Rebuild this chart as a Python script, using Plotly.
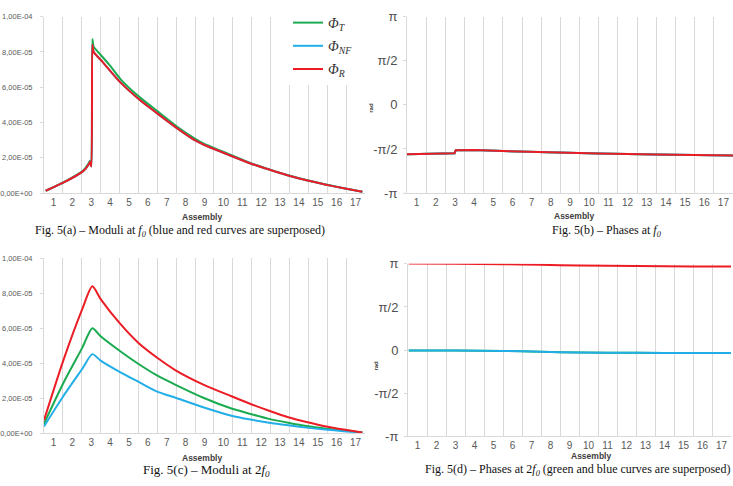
import math
import plotly.graph_objects as go

W, H = 733, 486
PI = math.pi

# ---------------- data ----------------
assemblies = list(range(1, 18))
assembly_labels = [str(a) for a in assemblies]

# Fig 5(a) - moduli at f0
xa = [0.59, 1.52, 2.56, 2.88, 2.93, 3.01, 3.06, 3.13, 3.59, 4.03, 4.56, 5.56, 6.53, 7.52,
      8.53, 8.97, 10.46, 11.44, 12.46, 13.43, 14.4, 15.37, 16.37, 17.36]
mod_f0_T = [1.3e-6, 6.1e-6, 1.27e-5, 1.72e-5, 1.83e-5, 1.55e-5, 8.74e-5, 8.30e-5, 7.73e-5, 7.18e-5,
            6.45e-5, 5.44e-5, 4.62e-5, 3.79e-5, 3.06e-5, 2.80e-5, 2.13e-5, 1.70e-5, 1.33e-5,
            1.01e-5, 7.4e-6, 5.0e-6, 2.8e-6, 7e-7]
mod_f0_R = [1.3e-6, 5.9e-6, 1.23e-5, 1.65e-5, 1.78e-5, 1.50e-5, 8.42e-5, 8.00e-5, 7.45e-5, 6.90e-5,
            6.26e-5, 5.29e-5, 4.49e-5, 3.70e-5, 2.97e-5, 2.74e-5, 2.09e-5, 1.68e-5, 1.32e-5,
            1.00e-5, 7.3e-6, 4.9e-6, 2.7e-6, 7e-7]
mod_f0_NF = mod_f0_R  # superposed with red

# Fig 5(b) - phases at f0 (all curves superposed)
xb = [0.5, 2.0, 2.98, 3.04, 4.0, 5.5, 7.98, 10.48, 13.49, 15.48, 17.5]
phase_f0 = [-1.758, -1.745, -1.723, -1.620, -1.608, -1.643, -1.700, -1.735, -1.769, -1.792, -1.804]

# Fig 5(c) - moduli at 2f0
xc = [0.5, 1.52, 2.53, 3.06, 3.5, 4.52, 5.49, 6.46, 7.47, 8.97, 10.43, 11.44, 12.42, 13.43,
      14.4, 15.37, 16.37, 17.36]
mod_2f0_R = [7.5e-6, 4.15e-5, 7.1e-5, 8.39e-5, 7.66e-5, 6.27e-5, 5.17e-5, 4.34e-5, 3.6e-5, 2.77e-5,
             2.12e-5, 1.68e-5, 1.29e-5, 9.2e-6, 6.5e-6, 4.1e-6, 2.2e-6, 5e-7]
mod_2f0_T = [5.5e-6, 2.86e-5, 4.89e-5, 6.0e-5, 5.54e-5, 4.7e-5, 3.97e-5, 3.32e-5, 2.77e-5, 2.02e-5,
             1.42e-5, 1.11e-5, 8.3e-6, 6.1e-6, 4.2e-6, 2.8e-6, 1.7e-6, 5e-7]
mod_2f0_NF = [4e-6, 2.12e-5, 3.69e-5, 4.52e-5, 4.15e-5, 3.5e-5, 2.95e-5, 2.4e-5, 2.03e-5, 1.48e-5,
              1.01e-5, 7.9e-6, 6.1e-6, 4.6e-6, 3.3e-6, 2.2e-6, 1.3e-6, 5e-7]

# Fig 5(d) - phases at 2f0 (green and blue superposed)
xd = [0.54, 3.0, 5.5, 7.5, 9.5, 12.5, 15.5, 17.5]
phase_2f0_R = [3.15, 3.14, 3.13, 3.106, 3.083, 3.059, 3.047, 3.047]
phase_2f0_T = [-0.018, -0.018, -0.03, -0.065, -0.088, -0.10, -0.11, -0.11]
phase_2f0_NF = phase_2f0_T

mod_ticks = [0, 2e-5, 4e-5, 6e-5, 8e-5, 1e-4]
mod_ticktext = ["0,00E+00", "2,00E-05", "4,00E-05", "6,00E-05", "8,00E-05", "1,00E-04"]
phase_ticks = [-PI, -PI / 2, 0, PI / 2, PI]
phase_ticktext = ["-π", "-π/2", "0", "π/2", "π"]

names = ["<i>Φ</i><sub><i>T</i></sub>", "<i>Φ</i><sub><i>NF</i></sub>", "<i>Φ</i><sub><i>R</i></sub>"]
colors = ["#1aab50", "#22aee6", "#ec1c24"]

# ---------------- figure ----------------
fig = go.Figure()

def add3(x, ys, xa_ref, ya_ref, legend=False, smooth=0.0):
    for i, y in enumerate(ys):
        line = dict(color=colors[i], width=2)
        if smooth > 0:
            line.update(shape="spline", smoothing=smooth)
        fig.add_trace(go.Scatter(
            x=x, y=y, mode="lines", name=names[i], legendgroup=f"g{i}",
            showlegend=legend, line=line,
            xaxis=xa_ref, yaxis=ya_ref, hoverinfo="skip"))

add3(xa, [mod_f0_T, mod_f0_NF, mod_f0_R], "x", "y", legend=True, smooth=0.5)
add3(xb, [phase_f0, phase_f0, phase_f0], "x2", "y2")
add3(xc, [mod_2f0_T, mod_2f0_NF, mod_2f0_R], "x3", "y3", smooth=0.7)
add3(xd, [phase_2f0_T, phase_2f0_NF, phase_2f0_R], "x4", "y4", smooth=0.5)

def px_x(a, b):
    return [a / W, b / W]

def px_y(top, bottom):
    return [1 - bottom / H, 1 - top / H]

grid_vals = [k + 0.5 for k in range(1, 17)]
axis_col = "#d9d9d9"
tick_font = dict(family="Liberation Sans, Arial, sans-serif", size=10, color="#595959")

def xaxis(domain, anchor):
    return dict(domain=domain, anchor=anchor, range=[0.5, 17.5], tickmode="array",
                tickvals=assemblies, ticktext=assembly_labels, showgrid=False,
                zeroline=False, showline=True, linecolor=axis_col, linewidth=1,
                ticks="", tickfont=tick_font, ticklabeloverflow="allow",
                minor=dict(tickmode="array", tickvals=grid_vals, showgrid=True,
                           gridcolor=axis_col, gridwidth=1, ticks=""))

def mod_yaxis(domain, anchor):
    return dict(domain=domain, anchor=anchor, range=[0, 1e-4], tickmode="array",
                tickvals=mod_ticks, ticktext=mod_ticktext, showgrid=False, zeroline=False,
                showline=True, linecolor=axis_col, ticks="outside", ticklen=3,
                tickcolor=axis_col, ticklabelstandoff=6,
                tickfont=dict(family="Liberation Sans, Arial, sans-serif", size=7.5, color="#595959"))

def ph_yaxis(domain, anchor):
    return dict(domain=domain, anchor=anchor, range=[-PI, PI], tickmode="array",
                tickvals=phase_ticks, ticktext=phase_ticktext, showgrid=False, zeroline=False,
                showline=True, linecolor=axis_col, ticks="outside", ticklen=3,
                tickcolor=axis_col, ticklabelstandoff=3,
                tickfont=dict(family="Liberation Sans, Arial, sans-serif", size=13, color="#505050"))

fig.update_layout(
    width=W, height=H, autosize=False,
    margin=dict(l=0, r=0, t=0, b=0),
    paper_bgcolor="white", plot_bgcolor="white",
    xaxis=xaxis(px_x(44, 365), "y"),
    yaxis=mod_yaxis(px_y(10, 192), "x"),
    xaxis2=xaxis(px_x(407, 733), "y2"),
    yaxis2=ph_yaxis(px_y(10, 192), "x2"),
    xaxis3=xaxis(px_x(44, 365), "y3"),
    yaxis3=mod_yaxis(px_y(259, 440), "x3"),
    xaxis4=xaxis(px_x(408, 731), "y4"),
    yaxis4=ph_yaxis(px_y(265, 443), "x4"),
    legend=dict(x=288 / W, y=1.0, xanchor="left", yanchor="top",
                bgcolor="white", borderwidth=0, tracegroupgap=2,
                font=dict(family="Liberation Serif, serif", size=14, color="#333333")),
    showlegend=True,
)

def ann(text, x, y, size, bold=False, family="Liberation Sans, Arial, sans-serif",
        color="#404040", angle=0):
    fig.add_annotation(text=f"<b>{text}</b>" if bold else text, x=x / W, y=1 - y / H,
                       xref="paper", yref="paper", showarrow=False, textangle=angle,
                       xanchor="center", yanchor="middle",
                       font=dict(family=family, size=size, color=color))

for (x, y) in [(202, 217), (574, 216), (202, 465), (591, 463)]:
    ann("Assembly", x, y, 8.5, bold=True)
ann("rad", 371, 104, 6, bold=True, angle=-90)
ann("rad", 376, 370, 6, bold=True, angle=-90)

serif = "Liberation Serif, Times New Roman, serif"
ann("Fig. 5(a) – Moduli at <i>f<sub>0</sub></i> (blue and red curves are superposed)",
    180, 231, 12, family=serif, color="#111111")
ann("Fig. 5(b) – Phases at <i>f<sub>0</sub></i>", 607, 231, 12, family=serif, color="#111111")
ann("Fig. 5(c) – Moduli at 2<i>f<sub>0</sub></i>", 206, 478, 13, family=serif, color="#111111")
ann("Fig. 5(d) – Phases at 2<i>f<sub>0</sub></i> (green and blue curves are superposed)",
    577, 478, 12, family=serif, color="#111111")

fig.write_html("out.html", config={"displayModeBar": False},
               post_script="document.body.style.margin='0px';")
